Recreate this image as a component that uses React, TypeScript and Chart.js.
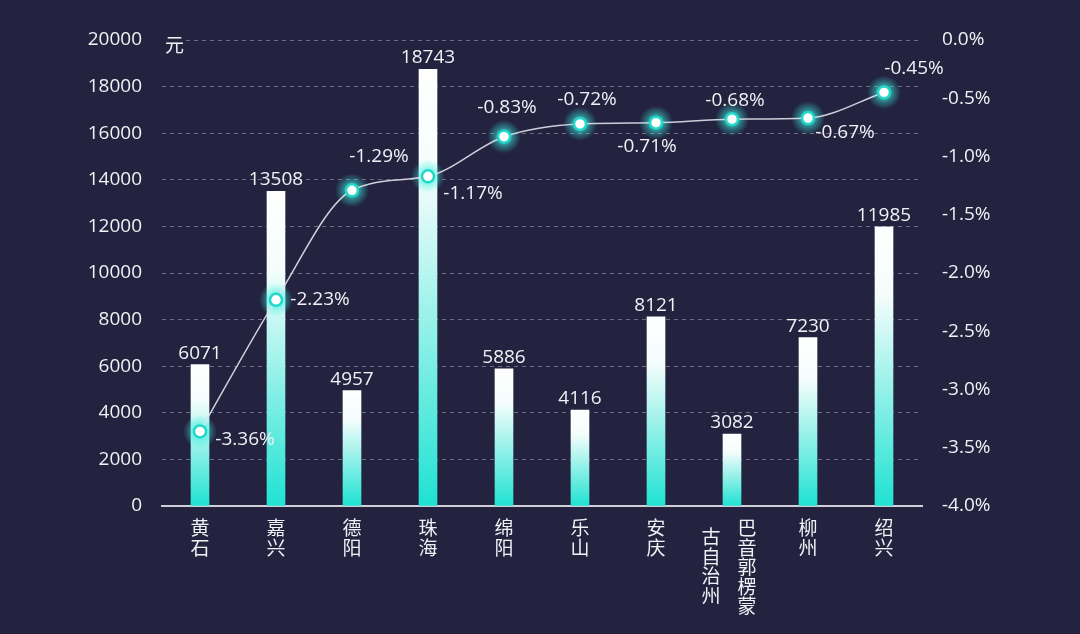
import React, { useEffect, useRef } from 'react';
import { Chart, registerables } from 'chart.js';

Chart.register(...registerables);

// ---- data ----
const cities: string[] = ['黄石', '嘉兴', '德阳', '珠海', '绵阳', '乐山', '安庆', '巴音郭楞蒙古自治州', '柳州', '绍兴'];
const incomeValues: number[] = [6071, 13508, 4957, 18743, 5886, 4116, 8121, 3082, 7230, 11985];
const growthValues: number[] = [-3.36, -2.23, -1.29, -1.17, -0.83, -0.72, -0.71, -0.68, -0.67, -0.45];
const leftAxisUnit = '元';
const leftAxisMin = 0;
const leftAxisMax = 20000;
const leftAxisStep = 2000;
const rightAxisMin = -4;
const rightAxisMax = 0;
const rightAxisStep = 0.5;

// ---- label placement relative to each point (style only) ----
const growthLabelOffsets: [number, number][] = [
  [45, 8], [44, 0], [27, -34], [45, 17], [3, -29], [7, -24], [-9, 24], [3, -19], [37, 15], [30, -24],
];

// ---- styles ----
const BG = '#23223f';
const TEXT = '#f0f0f5';
const CYAN = '#1fe2d2';
const NUM_FONT = '"Open Sans", "Noto Sans CJK SC", sans-serif';
const CJK_FONT = '"Noto Sans CJK SC", sans-serif';

const overlayPlugin = {
  id: 'overlayLabels',
  beforeDatasetDraw(chart: any, args: any) {
    if (args.index !== 1) return;
    const ctx = chart.ctx;
    const meta = chart.getDatasetMeta(1);
    ctx.save();
    meta.data.forEach((pt: any) => {
      const g = ctx.createRadialGradient(pt.x, pt.y, 4, pt.x, pt.y, 17);
      g.addColorStop(0, 'rgba(60,240,225,0.8)');
      g.addColorStop(0.5, 'rgba(60,240,225,0.35)');
      g.addColorStop(1, 'rgba(60,240,225,0)');
      ctx.fillStyle = g;
      ctx.beginPath();
      ctx.arc(pt.x, pt.y, 17, 0, Math.PI * 2);
      ctx.fill();
    });
    ctx.restore();
  },
  afterDatasetsDraw(chart: any) {
    const ctx = chart.ctx;
    const area = chart.chartArea;
    ctx.save();
    // bar value labels
    ctx.font = `19px ${NUM_FONT}`;
    ctx.fillStyle = TEXT;
    ctx.textAlign = 'center';
    ctx.textBaseline = 'alphabetic';
    const barMeta = chart.getDatasetMeta(0);
    barMeta.data.forEach((bar: any, i: number) => {
      ctx.fillText(String(incomeValues[i]), bar.x, bar.y - 6);
    });
    // growth labels
    ctx.textBaseline = 'middle';
    const lineMeta = chart.getDatasetMeta(1);
    lineMeta.data.forEach((pt: any, i: number) => {
      const [dx, dy] = growthLabelOffsets[i];
      ctx.fillText(growthValues[i].toFixed(2) + '%', pt.x + dx, pt.y + dy);
    });
    // unit label
    ctx.font = `19px ${CJK_FONT}`;
    ctx.textAlign = 'left';
    ctx.fillStyle = BG;
    ctx.fillRect(area.left, area.top - 4, 24, 8);
    ctx.fillStyle = TEXT;
    ctx.fillText(leftAxisUnit, area.left + 3, area.top + 5);
    // x labels (vertical)
    const xs = chart.scales.x;
    const step = 19.5;
    const y0 = area.bottom + 22;
    ctx.textAlign = 'center';
    const drawCol = (text: string, x: number, y: number) => {
      Array.from(text).forEach((ch, k) => ctx.fillText(ch, x, y + k * step));
    };
    cities.forEach((name, i) => {
      const x = xs.getPixelForValue(i);
      if (name.length > 5) {
        drawCol(name.slice(0, 5), x + 15, y0);
        drawCol(name.slice(5), x - 21, y0 + 9);
      } else {
        drawCol(name, x, y0);
      }
    });
    ctx.restore();
  },
};

export default function App() {
  const ref = useRef<HTMLCanvasElement>(null);
  useEffect(() => {
    if (!ref.current) return;
    const chart = new Chart(ref.current, {
      type: 'bar',
      data: {
        labels: cities,
        datasets: [
          {
            type: 'bar',
            label: '收入',
            data: incomeValues,
            yAxisID: 'y',
            order: 1,
            barThickness: 18,
            backgroundColor: (c: any) => {
              const chart = c.chart;
              const ys = chart.scales && chart.scales.y;
              if (!ys || c.type !== 'data') return CYAN;
              const top = ys.getPixelForValue(c.raw);
              const bottom = ys.getPixelForValue(0);
              if (!isFinite(top) || !isFinite(bottom) || top === bottom) return CYAN;
              const g = chart.ctx.createLinearGradient(0, top, 0, bottom);
              g.addColorStop(0, '#ffffff');
              g.addColorStop(0.25, '#f4fdfc');
              g.addColorStop(1, CYAN);
              return g;
            },
          } as any,
          {
            type: 'line',
            label: '增速',
            data: growthValues,
            yAxisID: 'y1',
            order: 0,
            borderColor: 'rgba(225,225,235,0.9)',
            borderWidth: 1.5,
            cubicInterpolationMode: 'monotone',
            pointRadius: 6,
            pointBorderWidth: 2.5,
            pointBorderColor: '#22d8c8',
            pointBackgroundColor: '#ffffff',
          } as any,
        ],
      },
      options: {
        responsive: false,
        animation: false,
        layout: { padding: { top: 40, left: 0, right: 0, bottom: 0 } },
        plugins: {
          legend: { display: false },
          tooltip: { enabled: false },
        },
        scales: {
          x: {
            grid: { display: false },
            border: { display: true, color: '#cfcfd8', width: 2 },
            ticks: { display: false },
            afterFit: (s: any) => { s.height = 128; },
          },
          y: {
            position: 'left',
            min: leftAxisMin,
            max: leftAxisMax,
            ticks: {
              stepSize: leftAxisStep,
              color: TEXT,
              font: { size: 19, family: NUM_FONT },
              padding: 20,
              callback: (v: any) => String(v),
            },
            grid: { color: 'rgba(200,200,215,0.45)', lineWidth: 1, drawTicks: false },
            border: { display: false, dash: [4, 4] },
            afterFit: (s: any) => { s.width = 162; },
          },
          y1: {
            position: 'right',
            min: rightAxisMin,
            max: rightAxisMax,
            ticks: {
              stepSize: rightAxisStep,
              color: TEXT,
              font: { size: 19, family: NUM_FONT },
              padding: 20,
              callback: (v: any) => Number(v).toFixed(1) + '%',
            },
            grid: { display: false, drawTicks: false },
            border: { display: false },
            afterFit: (s: any) => { s.width = 158; },
          },
        },
      } as any,
      plugins: [overlayPlugin],
    });
    return () => chart.destroy();
  }, []);
  return (
    <div style={{ position: 'absolute', left: 0, top: 0, width: 1080, height: 634, background: BG }}>
      <canvas ref={ref} width={1080} height={634} />
    </div>
  );
}
